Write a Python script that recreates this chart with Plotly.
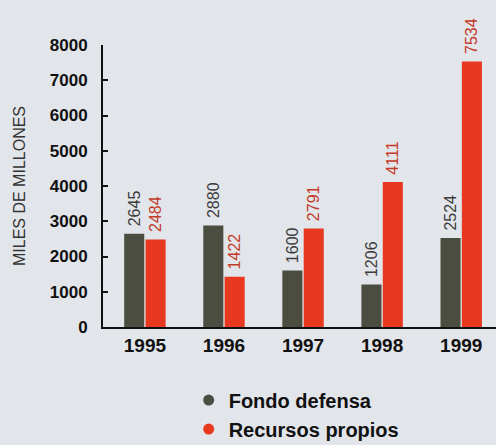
import plotly.graph_objects as go

# Datos
years = ["1995", "1996", "1997", "1998", "1999"]
fondo_defensa = [2645, 2880, 1600, 1206, 2524]
recursos_propios = [2484, 1422, 2791, 4111, 7534]
y_ticks = [0, 1000, 2000, 3000, 4000, 5000, 6000, 7000, 8000]

DARK = "#4a4d40"
RED = "#e8381f"
BG = "#e2e5ea"
FONT = "Liberation Sans"

fig = go.Figure()

# Barras con etiquetas verticales encima
for vals, color, text_color in [
    (fondo_defensa, DARK, "#3c3c3c"),
    (recursos_propios, RED, "#c43a28"),
]:
    fig.add_trace(
        go.Bar(
            x=years,
            y=vals,
            marker=dict(color=color, line=dict(width=0)),
            text=[" " + str(v) for v in vals],
            textposition="outside",
            textangle=-90,
            constraintext="none",
            cliponaxis=False,
            textfont=dict(family=FONT, size=16, color=text_color),
            showlegend=False,
            hoverinfo="skip",
        )
    )

# Leyenda con marcadores circulares
for name, color in [("Fondo defensa", DARK), ("Recursos propios", RED)]:
    fig.add_trace(
        go.Scatter(
            x=[None],
            y=[None],
            mode="markers",
            name=name,
            marker=dict(color=color, size=11, symbol="circle"),
        )
    )

fig.update_layout(
    width=496,
    height=445,
    margin=dict(l=103, r=0, t=45, b=118, autoexpand=False),
    paper_bgcolor=BG,
    plot_bgcolor=BG,
    barmode="group",
    bargap=0.46,
    bargroupgap=0.06,
    legend=dict(
        x=0.218,
        xanchor="left",
        y=-0.19,
        yanchor="top",
        font=dict(family=FONT, size=20, color="#111111", weight="bold"),
        bgcolor="rgba(0,0,0,0)",
        tracegroupgap=0,
    ),
)

fig.update_xaxes(
    type="category",
    range=[-0.53, 4.44],
    showline=True,
    linecolor="#111111",
    linewidth=2,
    ticks="",
    tickfont=dict(family=FONT, size=19, color="#111111", weight="bold"),
    ticklabelstandoff=0,
    showgrid=False,
    zeroline=False,
)

fig.update_yaxes(
    range=[0, 8000],
    tickvals=y_ticks,
    showline=True,
    linecolor="#111111",
    linewidth=2,
    ticks="inside",
    ticklen=5,
    tickwidth=2,
    tickcolor="#111111",
    tickfont=dict(family=FONT, size=17, color="#111111", weight="bold"),
    ticklabelstandoff=10,
    showgrid=False,
    zeroline=False,
    title=dict(
        text="MILES DE MILLONES",
        font=dict(family=FONT, size=16, color="#333333"),
        standoff=20,
    ),
)

fig.write_html(
    "out.html",
    config={"displayModeBar": False},
    post_script=(
        "document.body.style.margin='0';"
        "document.body.style.background='" + BG + "';"
    ),
)
